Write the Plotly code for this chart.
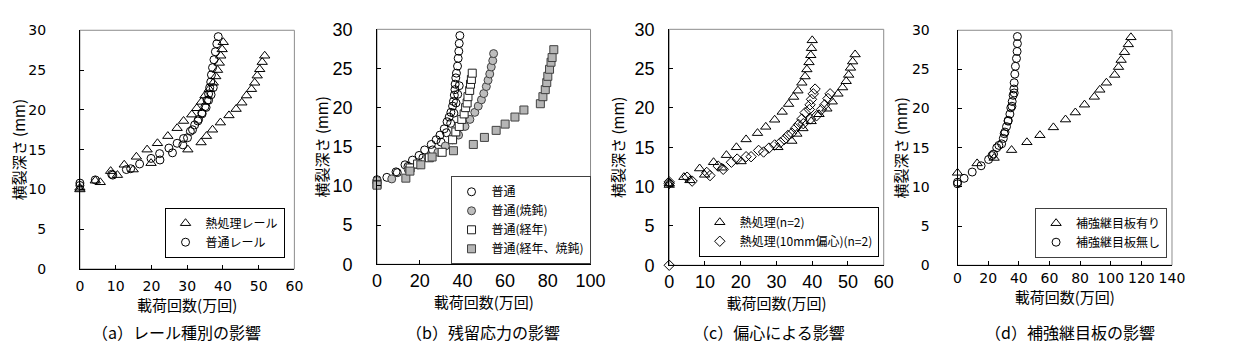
import plotly.graph_objects as go

W, H = 1239, 355

# ---------------- data ----------------
# (a) rail type
a_heat1_x = [0, 4.3, 8.6, 12.4, 15.8, 18.8, 21.7, 24.6, 27.2, 29.0, 31.3, 32.7, 34.0, 35.0, 36.2, 37.3, 38.0, 38.5, 39.0, 39.4, 39.8, 40.1]
a_heat1_y = [10.2, 11.1, 12.3, 13.1, 14.1, 15.0, 15.8, 16.7, 17.7, 18.6, 19.4, 20.2, 21.0, 21.8, 22.6, 23.4, 24.2, 25.0, 25.9, 26.8, 27.6, 28.5]
a_heat2_x = [0, 5.7, 10.5, 14.9, 19.9, 30.2, 33.9, 35.4, 37.1, 39.3, 41.7, 43.7, 45.3, 46.6, 48.0, 48.9, 49.6, 50.3, 51.0, 51.7]
a_heat2_y = [10.0, 10.9, 11.8, 12.5, 13.3, 15.0, 15.9, 16.7, 17.5, 18.4, 19.3, 20.1, 20.9, 21.8, 22.6, 23.4, 24.3, 25.1, 26.0, 26.8]
a_norm1_x = [0, 4.3, 8.9, 13.0, 16.7, 19.9, 22.3, 24.9, 27.2, 29.0, 30.9, 32.1, 33.2, 34.1, 35.0, 35.6, 36.0, 36.3, 36.6, 36.8, 37.1, 37.5, 37.9, 38.3, 38.7]
a_norm1_y = [10.8, 11.2, 11.9, 12.5, 13.2, 13.9, 14.5, 15.2, 15.8, 16.4, 17.3, 18.1, 18.8, 19.6, 20.4, 21.2, 22.0, 22.8, 23.5, 24.4, 25.3, 26.3, 27.3, 28.3, 29.2]
a_norm2_x = [0, 9.2, 14.2, 22.4, 25.9, 28.8, 30.1, 31.5, 33.0, 34.2, 35.3, 36.0, 36.7, 37.3]
a_norm2_y = [10.5, 11.8, 12.6, 13.7, 14.6, 15.6, 16.5, 17.5, 18.6, 19.5, 20.3, 21.2, 21.9, 22.8]

# (b) residual stress
b_norm_x = [0, 4.6, 8.9, 13.1, 16.6, 19.7, 22.3, 25.4, 27.7, 29.5, 31.5, 32.8, 33.8, 34.6, 35.4, 35.8, 36.2, 36.5, 36.6, 36.9, 37.2, 37.7, 38.0, 38.3, 38.5, 38.8]
b_norm_y = [10.8, 11.1, 11.8, 12.7, 13.3, 13.9, 14.6, 15.3, 15.9, 16.5, 17.3, 18.2, 18.8, 19.4, 20.2, 20.8, 21.6, 22.3, 23.0, 23.8, 24.4, 25.3, 26.3, 27.2, 28.2, 29.2]
b_norm2_x = [0, 9.5, 14.5, 21.5, 26.0, 30.0, 32.5, 34.5, 36.0, 37.0, 37.8, 38.5]
b_norm2_y = [10.4, 11.7, 12.5, 13.6, 14.6, 15.6, 16.8, 18.0, 19.3, 20.6, 21.7, 22.8]
b_ann_x = [0, 6.9, 14.6, 19.2, 23.8, 28.5, 32.0, 35.4, 38.2, 41.2, 43.5, 45.8, 47.4, 48.9, 50.0, 51.2, 52.0, 52.8, 53.5, 54.2, 54.6]
b_ann_y = [10.7, 10.9, 12.1, 12.7, 13.7, 14.3, 15.1, 15.9, 16.5, 17.6, 18.5, 19.4, 20.2, 21.0, 21.8, 22.7, 23.5, 24.3, 25.2, 26.0, 26.9]
b_aged_x = [0, 15.5, 19.0, 24.5, 30.5, 35.4, 36.9, 38.5, 39.7, 40.8, 41.5, 42.2, 42.6, 43.4, 43.8, 44.2, 44.6]
b_aged_y = [10.2, 12.3, 12.8, 13.6, 14.3, 15.9, 16.9, 17.6, 18.5, 19.2, 20.0, 20.6, 21.4, 22.2, 23.0, 23.6, 24.4]
b_agedann_x = [0, 13.5, 15.4, 20.5, 25.8, 35.8, 45.1, 50.3, 55.8, 60.0, 64.6, 68.8, 76.5, 77.7, 78.8, 79.5, 80.0, 80.8, 81.5, 82.0, 82.8]
b_agedann_y = [10.1, 11.0, 11.9, 12.7, 13.7, 14.5, 15.3, 16.2, 17.1, 17.9, 18.8, 19.7, 20.5, 21.4, 22.3, 23.2, 24.0, 24.9, 25.8, 26.4, 27.4]

# (c) eccentricity
c_heat1_x = [0, 4.1, 8.5, 12.4, 16.0, 18.8, 21.5, 24.7, 27.0, 29.5, 31.6, 33.4, 34.8, 36.0, 37.1, 38.0, 38.5, 39.1, 39.6, 39.8, 40.0]
c_heat1_y = [10.4, 11.2, 12.3, 13.1, 14.0, 15.0, 16.0, 16.8, 17.6, 18.5, 19.5, 20.5, 21.4, 22.2, 23.2, 24.0, 24.9, 25.8, 26.7, 27.6, 28.6]
c_heat2_x = [0, 5.8, 9.9, 14.7, 20.1, 30.4, 34.3, 35.7, 37.4, 39.7, 41.9, 44.1, 45.6, 47.2, 48.5, 49.5, 50.2, 50.7, 51.3, 52.0]
c_heat2_y = [10.2, 10.8, 11.5, 12.4, 13.2, 15.0, 15.8, 16.7, 17.4, 18.3, 19.2, 19.9, 20.8, 21.8, 22.6, 23.4, 24.2, 25.1, 25.9, 26.8]
c_ecc1_x = [0, 5.0, 10.5, 13.7, 17.4, 21.5, 25.0, 29.5, 32.2, 34.3, 36.2, 37.1, 38.0, 39.2, 39.4, 39.8, 40.3, 40.8]
c_ecc1_y = [10.6, 11.2, 11.8, 12.6, 13.1, 13.8, 14.6, 15.3, 16.0, 16.8, 17.9, 18.6, 19.4, 19.8, 20.4, 21.1, 21.8, 22.4]
c_ecc2_x = [0, 0, 6.4, 11.4, 15.1, 19.0, 22.9, 26.4, 27.9, 31.1, 33.2, 35.3, 37.5, 39.5, 41.2, 42.6, 43.5, 44.4, 45.0]
c_ecc2_y = [0, 10.4, 10.7, 11.4, 12.2, 13.5, 13.8, 14.4, 14.9, 15.6, 16.5, 17.4, 18.0, 18.6, 19.0, 19.8, 20.4, 21.2, 21.8]

# (d) reinforcing joint plate
d_with_x = [0, 12.8, 23.9, 35.3, 45.3, 53.8, 62.6, 70.5, 76.9, 82.9, 89.3, 92.9, 97.2, 102.6, 105.1, 106.8, 109.0, 111.5, 113.2]
d_with_y = [11.8, 13.0, 13.7, 14.7, 15.7, 16.6, 17.6, 18.6, 19.5, 20.5, 21.5, 22.4, 23.3, 24.3, 25.3, 26.2, 27.2, 28.2, 29.1]
d_without_x = [0, 4.3, 9.6, 15.4, 20.3, 23.5, 25.6, 28.8, 29.9, 31.0, 32.0, 33.1, 34.2, 34.8, 35.7, 36.3, 36.8, 37.0, 37.4, 37.8, 38.5, 38.9, 39.1, 39.1]
d_without_y = [10.6, 11.1, 11.9, 12.7, 13.5, 14.2, 15.0, 15.5, 16.2, 17.0, 17.7, 18.5, 19.3, 20.1, 20.9, 21.7, 22.5, 23.3, 24.4, 25.4, 26.4, 27.3, 28.3, 29.2]
d_without2_x = [0, 22.5, 27.0, 30.5, 33.0, 35.5, 37.0]
d_without2_y = [10.4, 14.0, 15.3, 16.8, 18.4, 20.3, 22.0]

x_ranges = [[0, 60], [0, 100], [0, 60], [0, 140]]
x_dticks = [10, 20, 10, 20]
captions = ["（a）レール種別の影響", "（b）残留応力の影響", "（c）偏心による影響", "（d）補強継目板の影響"]
x_title = "載荷回数(万回)"
y_title = "横裂深さ (mm)"

# ---------------- layout geometry (pixels) ----------------
boxes = [(68, 286, 13, 266), (370, 587, 12, 261), (667, 885, 12, 262), (960, 1178, 13, 262)]
legend_pos = [(276, 254), (587, 261), (880, 253), (1173, 254)]  # right, bottom
legend_border = ["black", "#404040", "black", "#404040"]
cap_x = [166, 478, 768, 1074]
cap_y = 333
tick_font = ["DejaVu Sans", "Liberation Sans", "Liberation Sans", "DejaVu Sans"]
tick_size = [14, 18, 18, 14]
y_lab_gap = [30, 20, 10, 24]
x_lab_gap = [4, 0, 0, 0]
y_title_so = [6, 0, 6, 0]
x_title_so = [2, 0, 0, 2]
jp = "Noto Sans CJK JP"

fig = go.Figure()

def add(i, x, y, name, symbol, fill="white", line="black", show=True, size=8):
    k = "" if i == 0 else str(i + 1)
    fig.add_trace(go.Scatter(
        x=x, y=y, mode="markers", name=name, showlegend=show,
        xaxis="x" + k, yaxis="y" + k, legend="legend" + k,
        cliponaxis=False,
        marker=dict(symbol=symbol, size=size, color=fill, line=dict(color=line, width=1)),
    ))

add(0, a_heat1_x, a_heat1_y, "熱処理レール", "triangle-up-open", fill="black", size=9)
add(0, a_heat2_x, a_heat2_y, "熱処理レール", "triangle-up-open", fill="black", show=False, size=9)
add(0, a_norm1_x, a_norm1_y, "普通レール", "circle-open", fill="black")
add(0, a_norm2_x, a_norm2_y, "普通レール", "circle-open", fill="black", show=False)

add(1, b_norm_x, b_norm_y, "普通", "circle-open", fill="black")
add(1, b_norm2_x, b_norm2_y, "普通", "circle-open", fill="black", show=False)
add(1, b_ann_x, b_ann_y, "普通(焼鈍)", "circle", fill="#bdbdbd", line="#404040")
add(1, b_aged_x, b_aged_y, "普通(経年)", "square", fill="white", line="#202020")
add(1, b_agedann_x, b_agedann_y, "普通(経年、焼鈍)", "square", fill="#b5b5b5", line="#404040")

add(2, c_heat1_x, c_heat1_y, "熱処理(n=2)", "triangle-up-open", fill="black", size=9)
add(2, c_heat2_x, c_heat2_y, "熱処理(n=2)", "triangle-up-open", fill="black", show=False, size=9)
add(2, c_ecc1_x, c_ecc1_y, "熱処理(10mm偏心)(n=2)", "diamond-open", fill="black")
add(2, c_ecc2_x, c_ecc2_y, "熱処理(10mm偏心)(n=2)", "diamond-open", fill="black", show=False)

add(3, d_with_x, d_with_y, "補強継目板有り", "triangle-up-open", fill="black", size=9)
add(3, d_without_x, d_without_y, "補強継目板無し", "circle-open", fill="black")
add(3, d_without2_x, d_without2_y, "補強継目板無し", "circle-open", fill="black", show=False)

layout = dict(
    width=W, height=H, margin=dict(l=0, r=0, t=0, b=0),
    paper_bgcolor="white", plot_bgcolor="white",
    font=dict(family=jp, color="black"),
)
shapes = []
annotations = []
for i, (x0, x1, y0, y1) in enumerate(boxes):
    k = "" if i == 0 else str(i + 1)
    xd = [x0 / W, x1 / W]
    yd = [1 - y1 / H, 1 - y0 / H]
    tf = dict(family=tick_font[i], size=tick_size[i], color="black")
    layout["xaxis" + k] = dict(
        domain=xd, anchor="y" + k, range=x_ranges[i], dtick=x_dticks[i],
        showgrid=False, zeroline=False, showline=True, linecolor="black", linewidth=1,
        ticks="inside", ticklen=4, tickcolor="black", tickfont=tf,
        ticklabelstandoff=x_lab_gap[i],
        title=dict(text=x_title, font=dict(family=jp, size=15), standoff=x_title_so[i]),
    )
    layout["yaxis" + k] = dict(
        domain=yd, anchor="x" + k, range=[0, 30], dtick=5,
        showgrid=False, zeroline=False, showline=True, linecolor="black", linewidth=1,
        ticks="inside", ticklen=4, tickcolor="black", tickfont=tf,
        ticklabelstandoff=y_lab_gap[i],
        title=dict(text=y_title, font=dict(family=jp, size=15), standoff=y_title_so[i]),
    )
    shapes.append(dict(type="rect", xref="x" + k + " domain", yref="y" + k + " domain",
                       x0=0, x1=1, y0=0, y1=1, line=dict(color="#8c8c8c", width=1), layer="below"))
    lx, ly = legend_pos[i]
    layout["legend" + k] = dict(
        x=lx / W, y=1 - ly / H, xanchor="right", yanchor="bottom",
        bgcolor="white", bordercolor=legend_border[i], borderwidth=1,
        font=dict(family=jp, size=12, color="black"),
        tracegroupgap=0, itemwidth=30,
    )
    annotations.append(dict(text=captions[i], xref="paper", yref="paper",
                            x=cap_x[i] / W, y=1 - cap_y / H, xanchor="center", yanchor="middle",
                            showarrow=False, font=dict(family=jp, size=16, color="black")))

layout["shapes"] = shapes
layout["annotations"] = annotations
fig.update_layout(**layout)
fig.write_html("out.html")
